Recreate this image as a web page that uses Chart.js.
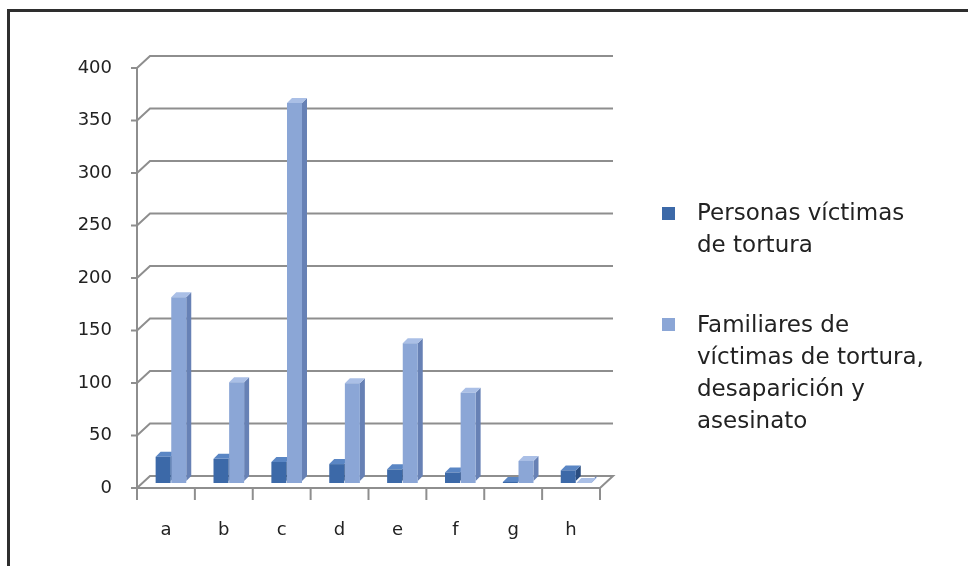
<!DOCTYPE html>
<html>
<head>
<meta charset="utf-8">
<script src="https://cdn.jsdelivr.net/npm/chart.js@4.4.1/dist/chart.umd.min.js"></script>
<style>
    body { margin: 0; background: #fff; }
    .wrap { position: relative; width: 968px; height: 566px; overflow: hidden; }
    .frame {
        position: absolute; left: 7px; top: 9px; width: 1000px; height: 600px;
        border-top: 3px solid #2e2e2e; border-left: 3px solid #2e2e2e;
    }
    canvas { position: absolute; left: 0; top: 0; }
    .legend { position: absolute; left: 662px; font-family: "DejaVu Sans", sans-serif; font-size: 23px; line-height: 32px; color: #222; }
    .legend .item { position: absolute; left: 0; width: 300px; }
    .legend .box { position: absolute; left: 0; width: 13px; height: 13px; }
    .legend .txt { position: absolute; left: 35px; width: 260px; }
</style>
</head>
<body>
<div class="wrap">
    <div class="frame"></div>
    <canvas id="chart" width="968" height="566"></canvas>
    <div class="legend" id="legend"></div>
</div>
<script>
const categories = ['a', 'b', 'c', 'd', 'e', 'f', 'g', 'h'];
const victimas = [25, 23, 20, 18, 13, 10, 1, 12];
const familiares = [177, 96, 362, 95, 133, 86, 21, 0];
const seriesNames = [
    ['Personas víctimas', 'de tortura'],
    ['Familiares de', 'víctimas de tortura,', 'desaparición y', 'asesinato']
];
const yTicks = [0, 50, 100, 150, 200, 250, 300, 350, 400];

const frontColors = ['#3c69a8', '#8ba6d6'];
const sideColors = ['#2a4d80', '#6781b5'];
const topColors = ['#5a86c4', '#aabfe6'];
const DEPTH = 5;
const WALL_DX = 13, WALL_DY = 12;
// las barras estan a media profundidad
const SHIFT_X = 5, SHIFT_Y = -5;

// pared, suelo y lineas de division
const wallPlugin = {
    id: 'wall',
    beforeDatasetsDraw(chart) {
        const ctx = chart.ctx;
        const y = chart.scales.y;
        const a = chart.chartArea;
        ctx.save();
        ctx.strokeStyle = '#8e8e8e';
        ctx.lineWidth = 2;
        yTicks.forEach(v => {
            const py = y.getPixelForValue(v);
            ctx.beginPath();
            ctx.moveTo(a.left - 6, py);
            ctx.lineTo(a.left, py);
            ctx.lineTo(a.left + WALL_DX, py - WALL_DY);
            ctx.lineTo(a.right + WALL_DX, py - WALL_DY);
            if (v === 0) {
                ctx.lineTo(a.right, py);
                ctx.lineTo(a.left, py);
            }
            ctx.stroke();
        });
        // eje vertical
        ctx.beginPath();
        ctx.moveTo(a.left, y.getPixelForValue(yTicks[yTicks.length - 1]));
        ctx.lineTo(a.left, a.bottom + 8);
        ctx.stroke();
        // marcas del eje x
        const step = (a.right - a.left) / categories.length;
        for (let i = 0; i <= categories.length; i++) {
            const px = a.left + i * step;
            ctx.beginPath();
            ctx.moveTo(px, a.bottom);
            ctx.lineTo(px, a.bottom + 12);
            ctx.stroke();
        }
        ctx.restore();

        ctx.save();
        ctx.translate(SHIFT_X, SHIFT_Y);
        // caras laterales y superiores de las barras
        chart.data.datasets.forEach((ds, di) => {
            chart.getDatasetMeta(di).data.forEach(bar => {
                const p = bar.getProps(['x', 'y', 'width', 'base'], true);
                const l = p.x - p.width / 2, r = p.x + p.width / 2;
                const bottom = p.base - 2;
                ctx.fillStyle = sideColors[di];
                ctx.beginPath();
                ctx.moveTo(r, p.y);
                ctx.lineTo(r + DEPTH, p.y - DEPTH);
                ctx.lineTo(r + DEPTH, bottom - DEPTH);
                ctx.lineTo(r, bottom);
                ctx.closePath();
                ctx.fill();
                ctx.fillStyle = topColors[di];
                ctx.beginPath();
                ctx.moveTo(l, p.y);
                ctx.lineTo(l + DEPTH, p.y - DEPTH);
                ctx.lineTo(r + DEPTH, p.y - DEPTH);
                ctx.lineTo(r, p.y);
                ctx.closePath();
                ctx.fill();
            });
        });
    },
    afterDatasetsDraw(chart) {
        chart.ctx.restore();
    }
};

const tickFont = { family: 'DejaVu Sans', size: 18 };

const chart = new Chart(document.getElementById('chart'), {
    type: 'bar',
    data: {
        labels: categories,
        datasets: [
            { label: seriesNames[0].join(' '), data: victimas, backgroundColor: frontColors[0] },
            { label: seriesNames[1].join(' '), data: familiares, backgroundColor: frontColors[1] }
        ]
    },
    options: {
        responsive: false,
        animation: false,
        devicePixelRatio: 1,
        layout: { padding: { left: 0, right: 368, top: 68, bottom: 0 } },
        datasets: { bar: { categoryPercentage: 0.54, barPercentage: 0.96 } },
        plugins: { legend: { display: false }, tooltip: { enabled: false } },
        scales: {
            x: {
                grid: { display: false, drawTicks: false },
                border: { display: false },
                ticks: { color: '#222', font: tickFont, padding: 32 },
                afterFit: s => { s.height = 78; }
            },
            y: {
                min: 0, max: 400,
                afterBuildTicks: s => { s.ticks = yTicks.map(v => ({ value: v })); },
                grid: { display: false, drawTicks: false },
                border: { display: false },
                ticks: { color: '#222', font: tickFont, padding: 25 },
                afterFit: s => { s.width = 137; }
            }
        }
    },
    plugins: [wallPlugin]
});

// leyenda
const legend = document.getElementById('legend');
const tops = [196, 308];
seriesNames.forEach((lines, i) => {
    const item = document.createElement('div');
    item.className = 'item';
    item.style.top = tops[i] + 'px';
    const box = document.createElement('div');
    box.className = 'box';
    box.style.top = (11 + (i === 0 ? 0 : -1)) + 'px';
    box.style.background = frontColors[i];
    const txt = document.createElement('div');
    txt.className = 'txt';
    txt.innerHTML = lines.join('<br>');
    item.appendChild(box);
    item.appendChild(txt);
    legend.appendChild(item);
});
</script>
</body>
</html>
